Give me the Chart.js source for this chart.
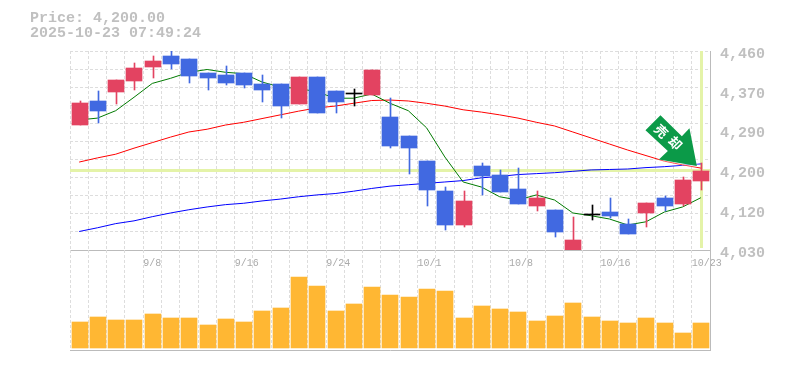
<!DOCTYPE html>
<html>
<head>
<meta charset="utf-8">
<title>Price chart</title>
<script src="https://cdn.jsdelivr.net/npm/chart.js@4"></script>
<style>
  html, body { margin: 0; padding: 0; background: #fff; }
  #wrap { position: relative; width: 785px; height: 370px; overflow: hidden; }
  canvas { position: absolute; left: 0; }
  #priceChart { top: 0; }
  #volumeChart { top: 250px; }
</style>
</head>
<body>
<div id="wrap">
  <canvas id="priceChart" width="785" height="275"></canvas>
  <canvas id="volumeChart" width="785" height="105"></canvas>
</div>
<script>
const titleLines = ["Price: 4,200.00", "2025-10-23 07:49:24"];
const signalText = ["売", "却"];

const dates = [
  "9/2", "9/3", "9/4", "9/5", "9/8", "9/9", "9/10", "9/11", "9/15", "9/16",
  "9/17", "9/18", "9/19", "9/22", "9/24", "9/25", "9/26", "9/29", "9/30", "10/1",
  "10/2", "10/3", "10/6", "10/7", "10/8", "10/9", "10/10", "10/14", "10/15", "10/16",
  "10/17", "10/20", "10/21", "10/22", "10/23"
];
const xTickLabels = ["9/8", "9/16", "9/24", "10/1", "10/8", "10/16", "10/23"];

const yTicks = [4460, 4374, 4288, 4202, 4116, 4030];
const yTickLabels = ["4,460", "4,370", "4,290", "4,200", "4,120", "4,030"];

const open  = [4300, 4352, 4371, 4395, 4425, 4449, 4442, 4412, 4408, 4412, 4388, 4388, 4345, 4403, 4373, 4367, 4365, 4317, 4276, 4222, 4158, 4084, 4212, 4192, 4162, 4125, 4117, 4029, 4106, 4112, 4087, 4110, 4143, 4130, 4179];
const high  = [4352, 4373, 4397, 4434, 4449, 4459, 4442, 4412, 4427, 4412, 4408, 4388, 4403, 4403, 4373, 4378, 4418, 4358, 4276, 4222, 4166, 4158, 4218, 4203, 4207, 4158, 4117, 4102, 4128, 4143, 4097, 4132, 4147, 4188, 4218];
const low   = [4300, 4304, 4345, 4375, 4401, 4421, 4390, 4375, 4386, 4380, 4350, 4315, 4345, 4326, 4326, 4341, 4365, 4250, 4194, 4125, 4074, 4080, 4149, 4156, 4130, 4115, 4059, 4029, 4095, 4100, 4065, 4080, 4115, 4125, 4160];
const close = [4347, 4330, 4397, 4423, 4438, 4431, 4405, 4401, 4390, 4386, 4375, 4341, 4403, 4326, 4350, 4367, 4418, 4255, 4250, 4160, 4084, 4136, 4190, 4156, 4130, 4143, 4069, 4052, 4106, 4104, 4065, 4132, 4125, 4181, 4200];

const maShort = [4311, 4315, 4331, 4360, 4390, 4401, 4414, 4420, 4414, 4411, 4393, 4382, 4379, 4372, 4358, 4358, 4367, 4347, 4331, 4294, 4231, 4177, 4166, 4145, 4138, 4149, 4138, 4110, 4104, 4097, 4084, 4091, 4112, 4123, 4143];
const maMid   = [4220, 4229, 4237, 4250, 4262, 4274, 4285, 4291, 4300, 4306, 4314, 4322, 4330, 4337, 4341, 4347, 4353, 4354, 4352, 4347, 4341, 4333, 4328, 4322, 4315, 4306, 4298, 4285, 4272, 4259, 4246, 4234, 4222, 4214, 4207];
const maLong  = [4070, 4078, 4087, 4093, 4102, 4110, 4117, 4123, 4128, 4131, 4136, 4140, 4145, 4149, 4152, 4157, 4163, 4168, 4171, 4174, 4177, 4180, 4186, 4189, 4193, 4195, 4197, 4200, 4203, 4204, 4205, 4208, 4210, 4213, 4216];

const volume = [26, 31, 28, 28, 34, 30, 30, 23, 29, 26, 37, 40, 71, 62, 37, 44, 61, 53, 51, 59, 57, 30, 42, 39, 36, 27, 32, 45, 31, 27, 25, 30, 25, 15, 25];

const crossPrice = 4202;

const GRAY = "#bbbbbb";
const GRID = "#dddddd";
const UP = "#e34361";
const DOWN = "#4169e1";
const DOJI = "#000000";
const CROSS = "#e4f3a8";
const MONO = "'Liberation Mono', monospace";

function candleColor(i) {
  if (open[i] === close[i]) return DOJI;
  return close[i] > open[i] ? UP : DOWN;
}
const colors = dates.map((d, i) => candleColor(i));

// keep bars on whole pixels, the original is not antialiased
const snapBars = {
  id: "snapBars",
  beforeDatasetDraw(chart, args) {
    if (args.meta.type !== "bar") return;
    args.meta.data.forEach(el => {
      const odd = Math.round(el.width) % 2 === 1 ? 0.5 : 0;
      el.x = Math.round(el.x + 0.4) + odd;
      el.y = Math.round(el.y);
      el.base = Math.round(el.base);
    });
  }
};

const crosshair = {
  id: "crosshair",
  beforeDatasetsDraw(chart) {
    const { ctx, chartArea, scales } = chart;
    const py = Math.round(scales.y.getPixelForValue(crossPrice)) + 0.5;
    const px = Math.round(scales.x.getPixelForValue(dates.length - 1)) + 0.5;
    ctx.save();
    ctx.strokeStyle = CROSS;
    ctx.lineWidth = 3;
    ctx.beginPath();
    ctx.moveTo(chartArea.left, py);
    ctx.lineTo(chartArea.right, py);
    ctx.moveTo(px, chartArea.top);
    ctx.lineTo(px, chartArea.bottom - 2);
    ctx.stroke();
    ctx.restore();
  }
};

// sell arrow, hangs off the high of the last candle
const signal = {
  id: "signal",
  afterDatasetsDraw(chart) {
    const { ctx, scales } = chart;
    const last = dates.length - 1;
    const tipX = scales.x.getPixelForValue(last) - 4;
    const tipY = scales.y.getPixelForValue(high[last]) + 3;
    const shape = [[-36.4, -50.7], [-15, -29.7], [-7.4, -37.7], [0, 0], [-38, -6.4], [-29, -15], [-51.4, -35.7]];
    ctx.save();
    ctx.translate(tipX, tipY);
    ctx.shadowColor = "#ffffff";
    ctx.shadowBlur = 4;
    ctx.fillStyle = "#0b9a48";
    ctx.beginPath();
    shape.forEach((p, i) => i ? ctx.lineTo(p[0], p[1]) : ctx.moveTo(p[0], p[1]));
    ctx.closePath();
    ctx.fill();
    ctx.shadowBlur = 0;
    ctx.fillStyle = "#ffffff";
    ctx.font = "bold 13px 'Noto Sans CJK JP'";
    ctx.textAlign = "center";
    ctx.textBaseline = "middle";
    [[-35.5, -35], [-21.5, -23]].forEach((p, i) => {
      ctx.save();
      ctx.translate(p[0], p[1]);
      ctx.rotate(Math.PI / 4);
      ctx.fillText(signalText[i], 0, 0);
      ctx.restore();
    });
    ctx.restore();
  }
};

function maLine(data, color, order) {
  return {
    type: "line", data: data, yAxisID: "y", order: order,
    borderColor: color, borderWidth: 1, pointRadius: 0, tension: 0, fill: false
  };
}

new Chart(document.getElementById("priceChart"), {
  type: "bar",
  data: {
    labels: dates,
    datasets: [
      maLine(maLong, "#0000ff", 5),
      maLine(maMid, "#ff0000", 4),
      maLine(maShort, "#007a00", 3),
      {
        data: dates.map((d, i) => [low[i], high[i]]), yAxisID: "y", order: 2,
        backgroundColor: colors, barThickness: 1, grouped: false, borderSkipped: false
      },
      {
        data: dates.map((d, i) => [open[i], close[i]]), yAxisID: "y", order: 1,
        backgroundColor: colors, barThickness: 16, grouped: false, borderSkipped: false, minBarLength: 1
      }
    ]
  },
  plugins: [snapBars, crosshair, signal],
  options: {
    responsive: false,
    animation: false,
    layout: { padding: { left: 30, right: 0, top: 0, bottom: 0 } },
    plugins: {
      legend: { display: false },
      tooltip: { enabled: false },
      title: {
        display: true, text: titleLines, align: "start", color: "#c0c0c0",
        font: { family: MONO, size: 15, weight: "bold", lineHeight: 1 },
        padding: { top: 11, bottom: 10 }
      }
    },
    scales: {
      x: {
        grid: { color: GRID, drawTicks: false },
        border: { color: GRAY, dash: [3, 2] },
        afterFit(scale) { scale.height = 25; },
        ticks: {
          autoSkip: false, maxRotation: 0, minRotation: 0, align: "start",
          labelOffset: -9, padding: 7, color: "#aaaaaa",
          font: { family: MONO, size: 10 },
          callback(value) {
            const label = this.getLabelForValue(value);
            return xTickLabels.includes(label) ? label : "";
          }
        }
      },
      y: {
        position: "right", min: 4030, max: 4460,
        grid: { display: false, drawTicks: false, tickLength: 0 },
        border: { color: GRAY },
        afterBuildTicks(scale) { scale.ticks = yTicks.map(v => ({ value: v })); },
        afterFit(scale) { scale.width = 75; },
        ticks: {
          padding: 10, color: "#c0c0c0", labelOffset: 3,
          font: { family: MONO, size: 15, weight: "bold" },
          callback(value) { return yTickLabels[yTicks.indexOf(value)]; }
        }
      },
      yGrid: {
        position: "left", min: 4030, max: 4460,
        grid: { color: GRID, drawTicks: false },
        border: { display: false, dash: [3, 2] },
        afterBuildTicks(scale) {
          const ticks = [];
          for (let i = 0; i <= 11; i++) ticks.push({ value: 4030 + i * 430 / 11 });
          scale.ticks = ticks;
        },
        afterFit(scale) { scale.width = 40; },
        ticks: { display: false }
      }
    }
  }
});

new Chart(document.getElementById("volumeChart"), {
  type: "bar",
  data: {
    labels: dates,
    datasets: [{ data: volume, backgroundColor: "#ffb733", barThickness: 16 }]
  },
  plugins: [snapBars],
  options: {
    responsive: false,
    animation: false,
    layout: { padding: { left: 70, right: 0, top: 0, bottom: 5 } },
    plugins: { legend: { display: false }, tooltip: { enabled: false } },
    scales: {
      x: {
        grid: { color: GRID, drawTicks: false },
        border: { color: GRAY, dash: [3, 2] },
        ticks: { display: false }
      },
      y: {
        position: "right", min: -2, max: 98,
        grid: { display: false },
        border: { color: GRAY },
        afterFit(scale) { scale.width = 75; },
        ticks: { display: false }
      }
    }
  }
});
</script>
</body>
</html>
